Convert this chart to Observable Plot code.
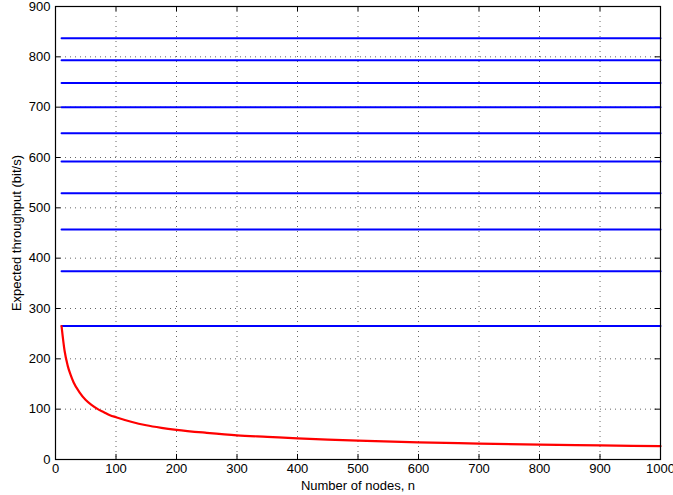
<!DOCTYPE html>
<html>
<head>
<meta charset="utf-8">
<script src="https://cdn.jsdelivr.net/npm/d3@7"></script>
<script src="https://cdn.jsdelivr.net/npm/@observablehq/plot@0.6"></script>
<style>
  body { margin: 0; background: #fff; }
  #chart { width: 673px; height: 495px; }
</style>
</head>
<body>
<div id="chart"></div>
<script>
// Blue horizontal levels (bit/s)
const blueLevels = [837, 793, 748, 700, 648, 592, 529, 457, 374, 265];
const blueStart = 10;
const blueEnd = 1000;

// Red curve: number of nodes n vs expected throughput
const redN = [10, 15, 20, 25, 30, 40, 50, 60, 70, 80, 90, 100, 125, 150, 175, 200, 250, 300, 350, 400, 450, 500, 600, 700, 800, 900, 1000];
const redY = [265, 216, 187, 168, 153, 133, 118, 108, 100, 94, 88, 84, 75, 68, 63, 59, 53, 48, 45, 42, 39.5, 37.5, 34, 31.7, 29.6, 28, 26.5];

const xTicks = [0, 100, 200, 300, 400, 500, 600, 700, 800, 900, 1000];
const yTicks = [0, 100, 200, 300, 400, 500, 600, 700, 800, 900];

const xTitle = "Number of nodes, n";
const yTitle = "Expected throughput (bit/s)";

const red = redN.map((n, i) => ({n, y: redY[i]}));
const blue = blueLevels.flatMap((v, k) => [{n: blueStart, y: v, k}, {n: blueEnd, y: v, k}]);

const font = "Liberation Sans, Arial, Helvetica, sans-serif";
const innerX = xTicks.slice(1, -1);
const innerY = yTicks.slice(1, -1);

const chart = Plot.plot({
  width: 673,
  height: 495,
  marginLeft: 55,
  marginRight: 13,
  marginTop: 6,
  marginBottom: 36,
  style: {fontFamily: font, fontSize: "13px", background: "#fff", color: "#000"},
  x: {domain: [0, 1000]},
  y: {domain: [0, 900]},
  marks: [
    // dotted grid
    Plot.ruleX(innerX, {stroke: "#000", strokeOpacity: 0.6, strokeDasharray: "1,4", strokeWidth: 1}),
    Plot.ruleY(innerY, {stroke: "#000", strokeOpacity: 0.6, strokeDasharray: "1,4", strokeWidth: 1}),
    // inward tick marks on all four sides
    Plot.ruleX(xTicks, {y1: 0, y2: 10, stroke: "#000"}),
    Plot.ruleX(xTicks, {y1: 890, y2: 900, stroke: "#000"}),
    Plot.ruleY(yTicks, {x1: 0, x2: 9, stroke: "#000"}),
    Plot.ruleY(yTicks, {x1: 991, x2: 1000, stroke: "#000"}),
    // axes labels
    Plot.axisX(xTicks, {tickSize: 0, tickPadding: 4, fontSize: 13, tickFormat: d3.format("d"), label: xTitle, labelAnchor: "center", labelOffset: 30, labelArrow: "none"}),
    Plot.axisY(yTicks, {tickSize: 0, tickPadding: 5, fontSize: 13, tickFormat: d3.format("d"), label: yTitle, labelAnchor: "center", labelOffset: 44, labelArrow: "none"}),
    // data
    Plot.line(blue, {x: "n", y: "y", z: "k", stroke: "#0000ff", strokeWidth: 2}),
    Plot.line(red, {x: "n", y: "y", stroke: "#ff0000", strokeWidth: 2.2, curve: "monotone-x"}),
    Plot.frame({stroke: "#000", strokeWidth: 1.2})
  ]
});
document.getElementById("chart").appendChild(chart);
</script>
</body>
</html>
